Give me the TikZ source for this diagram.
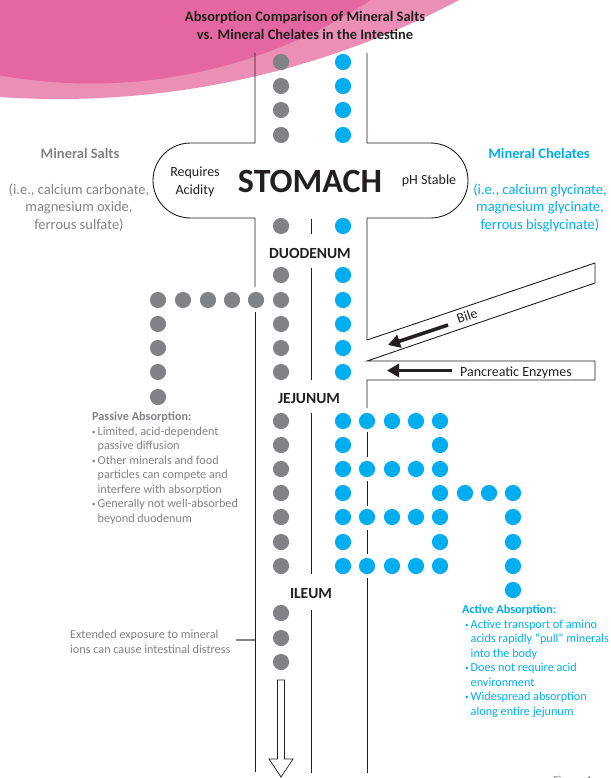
\documentclass[tikz,border=0pt]{standalone}
\usepackage{fontspec}
\setmainfont{Carlito}
\usetikzlibrary{arrows.meta}
\definecolor{saltgrey}{HTML}{808285}
\definecolor{chelblue}{HTML}{00AEEF}
\definecolor{ink}{HTML}{231F20}
\definecolor{pinkdark}{HTML}{E4679F}
\definecolor{pinklight}{HTML}{EB8FB6}
\newcommand{\bpt}[1][0pt]{\hspace*{#1}\makebox[5.5pt][l]{\raisebox{1pt}{\scriptsize •}}}
\newcommand{\ind}[1][0pt]{\hspace*{\dimexpr #1+5.5pt\relax}}

\begin{document}
\begin{tikzpicture}[x=1pt,y=-1pt]
    \tikzstyle{wall} = [draw=ink,line width=0.9pt]
    \tikzstyle{saltdot} = [fill=saltgrey]
    \tikzstyle{cheldot} = [fill=chelblue]
    \tikzstyle{region} = [font=\fontsize{15.5}{15.5}\selectfont\bfseries,text=ink,anchor=base]
    \tikzstyle{side} = [font=\fontsize{14.5}{17.5}\selectfont,align=center,anchor=base]
    \tikzstyle{note} = [font=\fontsize{12.2}{14.5}\selectfont,align=left,anchor=base west,inner sep=0pt]
    \tikzstyle{flow} = [draw=ink,line width=3.5pt,-{Triangle[length=12pt,width=13pt]}]
      \useasboundingbox (0,0) rectangle (610,778);
      \begin{scope}
        \clip (0,0) rectangle (610,778);
        \fill[pinklight] (58,-762) circle (861);
        \fill[pinkdark] (91,-426) circle (509.5);
      \end{scope}
      \node[side,font=\fontsize{14.5}{18}\selectfont\bfseries,text=ink] (title) at (305,40) {Absorption Comparison of Mineral Salts\\vs. Mineral Chelates in the Intestine};
      \draw[wall] (255,53) -- (255,143) -- (190.5,143) arc[start angle=270,end angle=90,radius=37.5] -- (255,218) -- (255,287);
      \draw[wall] (255,312) -- (255,772);
      \draw[wall] (367,53) -- (367,143) -- (430.5,143) arc[start angle=270,end angle=450,radius=37.5] -- (367,218) -- (367,340) -- (595,263) -- (595,283) -- (367,361) -- (595,361) -- (595,380) -- (367,380) -- (367,408);
      \foreach \a/\b in {432/457,481/506,530/554,578/773} \draw[wall] (367,\a) -- (367,\b);
      \foreach \a/\b in {219/234,268/380,413/574,610/773} \draw[wall] (311,\a) -- (311,\b);
      \foreach \y in {62,86,110,135,226,275,300,324,348,372,421,445,469,493,517,542,566,613,638,662} \fill[saltdot] (281,\y) circle (8.1);
      \foreach \x in {158,183,208,232,256} \fill[saltdot] (\x,300) circle (8.1);
      \foreach \y in {324,348,372,397} \fill[saltdot] (158,\y) circle (8.1);
      \foreach \y in {62,86,110,135,226,275,300,324,348,372,421,445,469,493,517,542,566} \fill[cheldot] (343,\y) circle (8.1);
      \foreach \y in {421,469,517,566} \foreach \x in {367,392,416} \fill[cheldot] (\x,\y) circle (8.1);
      \foreach \y in {421,445,469,493,517,542,566} \fill[cheldot] (440,\y) circle (8.1);
      \foreach \x in {465,489} \fill[cheldot] (\x,493) circle (8.1);
      \foreach \y in {493,517,542,566,590} \fill[cheldot] (513,\y) circle (8.1);
      \node[side,font=\fontsize{14.5}{17.5}\selectfont\bfseries,text=saltgrey] (salts) at (80,159) {Mineral Salts};
      \node[side,text=saltgrey] (saltlist) at (79,229.3) {(i.e., calcium carbonate,\\magnesium oxide,\\ferrous sulfate)};
      \node[side,font=\fontsize{14.5}{17.5}\selectfont\bfseries,text=chelblue] (chelates) at (539,159) {Mineral Chelates};
      \node[side,text=chelblue] (chellist) at (540,229.3) {(i.e., calcium glycinate,\\magnesium glycinate,\\ferrous bisglycinate)};
      \node[anchor=base,font=\fontsize{34}{34}\selectfont\bfseries,text=ink] (stomach) at (310,192) {STOMACH};
      \node[side,font=\fontsize{14}{18}\selectfont,text=ink] (acid) at (195,194) {Requires\\Acidity};
      \node[side,font=\fontsize{14}{18}\selectfont,text=ink] (stable) at (429,185) {pH Stable};
      \node[region] (duo) at (310,258) {DUODENUM};
      \node[region] (jej) at (309,403) {JEJUNUM};
      \node[region] (ile) at (311,598) {ILEUM};
      \node[font=\fontsize{14}{14}\selectfont,text=ink,rotate=18.7,inner sep=0pt] (bile) at (467,316) {Bile};
      \node[note,font=\fontsize{14}{14}\selectfont,text=ink] (panc) at (460,376) {Pancreatic Enzymes};
      \coordinate (biletail) at (448,325);
      \coordinate (bilehead) at (388,345);
      \coordinate (panctail) at (452,370.5);
      \coordinate (panchead) at (387,370.5);
      \draw[flow] (biletail) -- (bilehead);
      \draw[flow] (panctail) -- (panchead);
      \node[note,text=saltgrey] (passive) at (92,522) {\textbf{Passive Absorption:}\\
        \bpt Limited, acid-dependent\\ \ind passive diffusion\\
        \bpt Other minerals and food\\ \ind particles can compete and\\ \ind interfere with absorption\\
        \bpt Generally not well-absorbed\\ \ind beyond duodenum};
      \node[note,text=chelblue] (active) at (462,715) {\textbf{Active Absorption:}\\
        \bpt[3pt]Active transport of amino\\ \ind[3pt]acids rapidly “pull” minerals\\ \ind[3pt]into the body\\
        \bpt[3pt]Does not require acid\\ \ind[3pt]environment\\
        \bpt[3pt]Widespread absorption\\ \ind[3pt]along entire jejunum};
      \node[note,font=\fontsize{12.2}{15}\selectfont,text=saltgrey] (ext) at (70,653) {Extended exposure to mineral\\ions can cause intestinal distress};
      \coordinate (lwall) at (255,640);
      \coordinate (lead) at ([xshift=5pt]ext.east |- lwall);
      \draw[saltgrey,line width=1.2pt] (lead) -- (lwall);
      \draw[draw=ink,line width=0.7pt,fill=white] (277.5,680) -- (284.5,680) -- (284.5,759) -- (293,759) -- (281,777) -- (269,759) -- (277.5,759) -- cycle;
      \node[note,font=\fontsize{12}{12}\selectfont,text=saltgrey] (fig) at (553,784) {Figure 1};
  \end{tikzpicture}
\end{document}
